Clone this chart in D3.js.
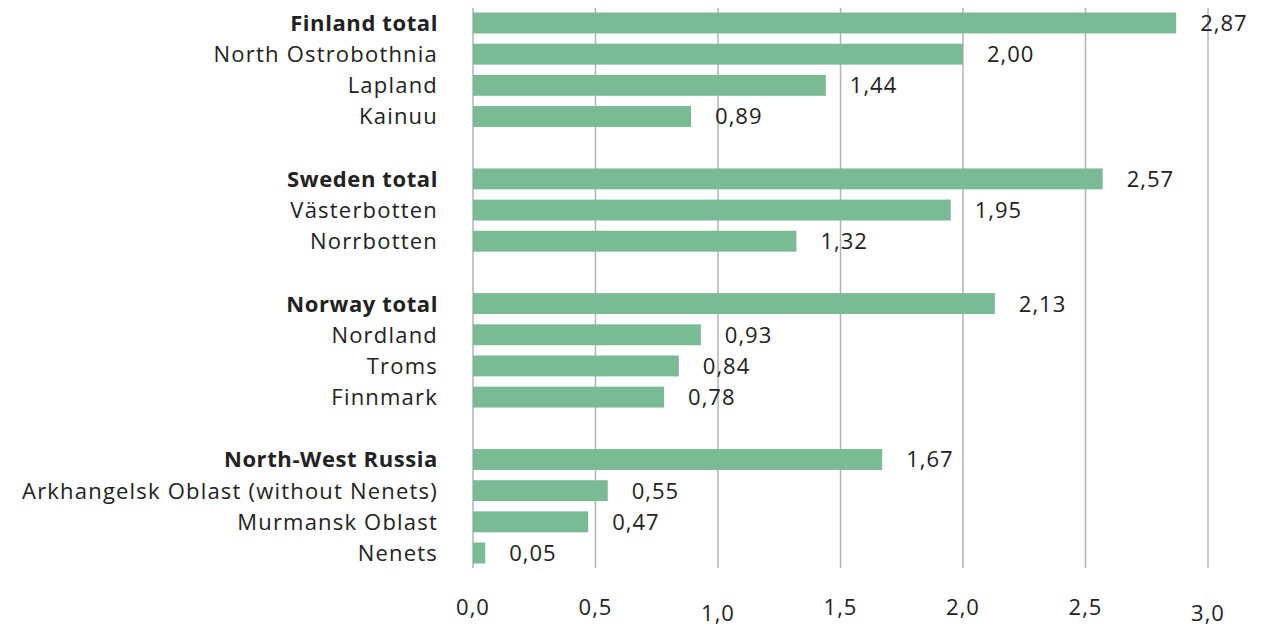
<!DOCTYPE html>
<html>
<head>
<meta charset="utf-8">
<script src="https://d3js.org/d3.v7.min.js"></script>
<style>
  body { margin: 0; background: #fff; }
  text { font-family: "Open Sans", Lato, sans-serif; fill: #222; }
  .grid line { stroke: #b3b3b3; stroke-width: 1.5px; }
  .bar { fill: #7aba95; }
</style>
</head>
<body>
<script>
// data
var categories = ["Finland total", "North Ostrobothnia", "Lapland", "Kainuu",
  "Sweden total", "Västerbotten", "Norrbotten",
  "Norway total", "Nordland", "Troms", "Finnmark",
  "North-West Russia", "Arkhangelsk Oblast (without Nenets)", "Murmansk Oblast", "Nenets"];
var values = [2.87, 2.00, 1.44, 0.89,
  2.57, 1.95, 1.32,
  2.13, 0.93, 0.84, 0.78,
  1.67, 0.55, 0.47, 0.05];
var totals = ["Finland total", "Sweden total", "Norway total", "North-West Russia"];
var xTicks = [0, 0.5, 1.0, 1.5, 2.0, 2.5, 3.0];

var width = 1268, height = 628;
var svg = d3.select("body").append("svg")
  .attr("width", width).attr("height", height);

// slot index for each row, leaving one empty slot between groups
var slots = [], s = 0;
categories.forEach(function(c, i) {
  if (i > 0 && totals.indexOf(c) >= 0) s++;
  slots.push(s);
  s++;
});

var x = d3.scaleLinear().domain([0, 3]).range([473, 1208]);
var y = d3.scaleBand().domain(d3.range(s))
  .range([7.4, 568.6]).paddingInner(0.33).paddingOuter(0.165);

var fmt = function(v, d) { return v.toFixed(d).replace(".", ","); };

// gridlines
svg.append("g").attr("class", "grid")
  .selectAll("line").data(xTicks).enter().append("line")
  .attr("x1", function(d) { return x(d); })
  .attr("x2", function(d) { return x(d); })
  .attr("y1", 8).attr("y2", 568);

// tick labels (1,0 and 3,0 sit a little lower in the original)
svg.append("g").selectAll("text").data(xTicks).enter().append("text")
  .attr("x", function(d) { return x(d); })
  .attr("y", function(d) { return (d === 1 || d === 3) ? 621 : 615; })
  .attr("text-anchor", "middle")
  .style("font-size", "22px")
  .style("letter-spacing", "1px")
  .text(function(d) { return fmt(d, 1); });

// bars
svg.selectAll("rect.bar").data(values).enter().append("rect")
  .attr("class", "bar")
  .attr("x", x(0))
  .attr("y", function(d, i) { return y(slots[i]); })
  .attr("width", function(d) { return x(d) - x(0); })
  .attr("height", y.bandwidth());

// value labels
svg.selectAll("text.val").data(values).enter().append("text")
  .attr("class", "val")
  .attr("x", function(d) { return x(d) + 24; })
  .attr("y", function(d, i) { return y(slots[i]) + y.bandwidth() / 2; })
  .attr("dy", "0.36em")
  .style("font-size", "22px")
  .style("letter-spacing", "1px")
  .text(function(d) { return fmt(d, 2); });

// category labels
svg.selectAll("text.cat").data(categories).enter().append("text")
  .attr("class", "cat")
  .attr("x", 438)
  .attr("y", function(d, i) { return y(slots[i]) + y.bandwidth() / 2; })
  .attr("dy", "0.36em")
  .attr("text-anchor", "end")
  .style("font-size", "22px")
  .style("letter-spacing", function(d) { return totals.indexOf(d) >= 0 ? "0.6px" : "1.2px"; })
  .style("font-weight", function(d) { return totals.indexOf(d) >= 0 ? "bold" : "normal"; })
  .text(function(d) { return d; });
</script>
</body>
</html>
